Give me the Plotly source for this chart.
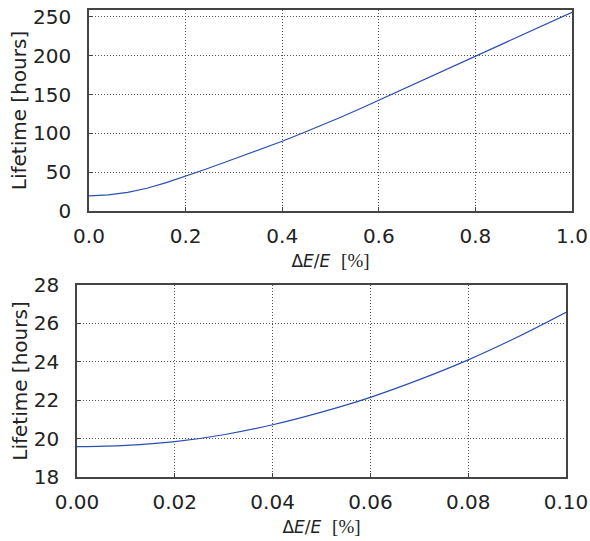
import plotly.graph_objects as go

# Top panel: full range
x_top = [0.00, 0.04, 0.08, 0.12, 0.16, 0.20, 0.24, 0.28, 0.32, 0.36, 0.40, 0.44, 0.48,
         0.52, 0.56, 0.60, 0.64, 0.68, 0.72, 0.76, 0.80, 0.84, 0.88, 0.92, 0.96, 1.00]
y_top = [19.6, 20.7, 24.1, 29.3, 36.5, 44.8, 53.5, 62.5, 71.5, 80.6, 89.8, 99.8, 110.0,
         120.5, 131.5, 142.8, 154.0, 165.2, 176.4, 187.5, 198.7, 210.0, 221.4, 232.8, 244.3, 256.0]

# Bottom panel: zoom on small deviations
x_bot = [0.00, 0.01, 0.02, 0.03, 0.04, 0.05, 0.06, 0.07, 0.08, 0.09, 0.10]
y_bot = [19.58, 19.65, 19.84, 20.20, 20.72, 21.38, 22.15, 23.07, 24.10, 25.28, 26.58]

x_ticks_top = [0.0, 0.2, 0.4, 0.6, 0.8, 1.0]
x_ticks_bot = [0.00, 0.02, 0.04, 0.06, 0.08, 0.10]
y_ticks_top = [0, 50, 100, 150, 200, 250]
y_ticks_bot = [18, 20, 22, 24, 26, 28]

LINE = "#2a4fae"
FRAME = "#444444"
GRID = "#555555"
FONT = "DejaVu Sans"

W, H = 590, 541


def dx(a, b):
    return [a / W, b / W]


def dy(top, bottom):
    return [1 - bottom / H, 1 - top / H]


fig = go.Figure()
fig.add_trace(go.Scatter(x=x_top, y=y_top, mode="lines", line=dict(color=LINE, width=1.2),
                         xaxis="x", yaxis="y", showlegend=False))
fig.add_trace(go.Scatter(x=x_bot, y=y_bot, mode="lines", line=dict(color=LINE, width=1.2),
                         xaxis="x2", yaxis="y2", showlegend=False, line_shape="spline"))

xtitle = ('Δ<i>E</i>/<i>E</i>  '
          '<span style="font-family:Liberation Serif;font-size:19px">[%]</span>')

common = dict(showline=True, linecolor=FRAME, linewidth=1.5, mirror=True,
              showgrid=True, gridcolor=GRID, griddash="1px,2px", gridwidth=1,
              ticks="inside", ticklen=4, tickcolor=FRAME, zeroline=False,
              automargin=False,
              tickfont=dict(family=FONT, size=20, color="#222222"))

fig.update_layout(
    width=W, height=H,
    margin=dict(l=0, r=0, t=0, b=0),
    paper_bgcolor="white", plot_bgcolor="white",
    font=dict(family=FONT, color="#222222"),
    xaxis=dict(domain=dx(89, 572), anchor="y", range=[0, 1],
               tickvals=x_ticks_top, ticktext=[f"{v:.1f}" for v in x_ticks_top],
               title=dict(text=xtitle, font=dict(size=17), standoff=8),
               ticklabelstandoff=6, **common),
    yaxis=dict(domain=dy(10, 211), anchor="x", range=[0, 259],
               tickvals=y_ticks_top,
               title=dict(text="Lifetime [hours]", font=dict(size=20), standoff=1),
               ticklabelstandoff=12, **common),
    xaxis2=dict(domain=dx(77, 566), anchor="y2", range=[0, 0.1],
                tickvals=x_ticks_bot, ticktext=[f"{v:.2f}" for v in x_ticks_bot],
                title=dict(text=xtitle, font=dict(size=17), standoff=8),
                ticklabelstandoff=6, **common),
    yaxis2=dict(domain=dy(285, 477), anchor="x2", range=[18, 28],
                tickvals=y_ticks_bot,
                title=dict(text="Lifetime [hours]", font=dict(size=20), standoff=1),
                ticklabelstandoff=12, **common),
)

fig.write_html("out.html",
               config={"displayModeBar": False},
               post_script="document.body.style.margin='0';"
                           "document.body.style.overflow='hidden';")
